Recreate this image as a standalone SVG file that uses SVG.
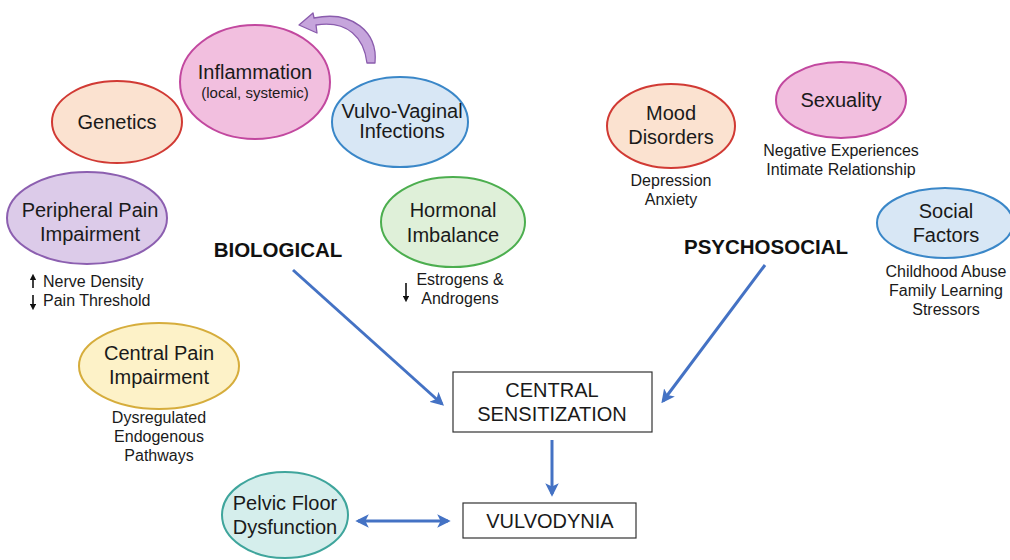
<svg xmlns="http://www.w3.org/2000/svg" width="1010" height="560" viewBox="0 0 1010 560">
<defs>
<style>
.lbl{font-family:"Liberation Sans",Arial,sans-serif;font-size:20px;fill:#1a1a1a;text-anchor:middle}
.sub{font-family:"Liberation Sans",Arial,sans-serif;font-size:16px;fill:#1a1a1a;text-anchor:middle}
.hd{font-family:"Liberation Sans",Arial,sans-serif;font-size:20.5px;font-weight:bold;fill:#111;text-anchor:middle}
.box{fill:#fff;stroke:#333;stroke-width:1.2}
.conn{stroke:#4472c4;stroke-width:3;fill:none}
.sm{stroke:#111;stroke-width:1.6;fill:none}
</style>
<marker id="ah" viewBox="0 0 10 10" refX="8" refY="5" markerWidth="4.5" markerHeight="4.5" orient="auto-start-reverse" markerUnits="strokeWidth">
<path d="M0,0 L10,5 L0,10 L2.5,5 z" fill="#4472c4"/>
</marker>
<marker id="sa" viewBox="0 0 10 10" refX="5" refY="5" markerWidth="4" markerHeight="4" orient="auto" markerUnits="strokeWidth">
<path d="M0,0 L10,5 L0,10 z" fill="#111"/>
</marker>
</defs>
<rect width="1010" height="560" fill="#fff"/>

<g id="connectors">
<line class="conn" x1="293" y1="270" x2="442" y2="404" marker-end="url(#ah)"/>
<line class="conn" x1="765" y1="265" x2="663" y2="401" marker-end="url(#ah)"/>
<line class="conn" x1="552" y1="440" x2="552" y2="494" marker-end="url(#ah)"/>
<line class="conn" x1="358" y1="521" x2="448" y2="521" marker-start="url(#ah)" marker-end="url(#ah)"/>
<path id="curved-arrow" d="M375,63 C378,32 352,10 314,18 L313,13 L299,25 L317,33 L316,25 C348,20 364,38 367,63 Z" fill="#c6a5dc" stroke="#8a5cad" stroke-width="1.3" stroke-linejoin="round"/>
</g>

<g id="genetics">
<ellipse cx="117" cy="122" rx="65" ry="41" fill="#fbe2d0" stroke="#d13a34" stroke-width="2"/>
<text class="lbl" x="117" y="129">Genetics</text>
</g>

<g id="inflammation">
<ellipse cx="255" cy="82" rx="75" ry="57" fill="#f2bfdf" stroke="#c2489f" stroke-width="2"/>
<text class="lbl" x="255" y="79">Inflammation</text>
<text class="sub" x="255" y="98" style="font-size:15px">(local, systemic)</text>
</g>

<g id="vulvo-vaginal">
<ellipse cx="400" cy="122" rx="68" ry="45" fill="#d8e7f5" stroke="#3a87c8" stroke-width="2"/>
<text class="lbl" x="402" y="118">Vulvo-Vaginal</text>
<text class="lbl" x="402" y="138">Infections</text>
</g>

<g id="peripheral-pain">
<ellipse cx="87" cy="218" rx="80" ry="46" fill="#dccbe9" stroke="#8c5fb0" stroke-width="2"/>
<text class="lbl" x="90" y="217">Peripheral Pain</text>
<text class="lbl" x="90" y="241">Impairment</text>
<line class="sm" x1="33" y1="288" x2="33" y2="277" marker-end="url(#sa)"/>
<line class="sm" x1="33" y1="295" x2="33" y2="307" marker-end="url(#sa)"/>
<text class="sub" x="43" y="287" style="text-anchor:start">Nerve Density</text>
<text class="sub" x="43" y="306" style="text-anchor:start">Pain Threshold</text>
</g>

<g id="hormonal">
<ellipse cx="453" cy="222" rx="72" ry="45" fill="#dff0d9" stroke="#4cae4f" stroke-width="2"/>
<text class="lbl" x="453" y="217">Hormonal</text>
<text class="lbl" x="453" y="242">Imbalance</text>
<line class="sm" x1="406" y1="283" x2="406" y2="299" marker-end="url(#sa)"/>
<text class="sub" x="460" y="285">Estrogens &amp;</text>
<text class="sub" x="460" y="304">Androgens</text>
</g>

<g id="biological">
<text class="hd" x="278" y="257">BIOLOGICAL</text>
</g>

<g id="central-pain">
<ellipse cx="159" cy="366" rx="80" ry="43" fill="#fdf2c8" stroke="#d6ad3c" stroke-width="2"/>
<text class="lbl" x="159" y="360">Central Pain</text>
<text class="lbl" x="159" y="384">Impairment</text>
<text class="sub" x="159" y="423">Dysregulated</text>
<text class="sub" x="159" y="442">Endogenous</text>
<text class="sub" x="159" y="461">Pathways</text>
</g>

<g id="pelvic-floor">
<ellipse cx="285" cy="515" rx="63" ry="43" fill="#d5eeec" stroke="#3fa59c" stroke-width="2"/>
<text class="lbl" x="285" y="510">Pelvic Floor</text>
<text class="lbl" x="285" y="534">Dysfunction</text>
</g>

<g id="central-sensitization">
<rect class="box" x="453" y="372" width="199" height="60"/>
<text class="lbl" x="552" y="397">CENTRAL</text>
<text class="lbl" x="552" y="421">SENSITIZATION</text>
</g>

<g id="vulvodynia">
<rect class="box" x="463" y="503" width="173" height="35"/>
<text class="lbl" x="550" y="528">VULVODYNIA</text>
</g>

<g id="psychosocial">
<text class="hd" x="766" y="254">PSYCHOSOCIAL</text>
</g>

<g id="mood-disorders">
<ellipse cx="671" cy="126" rx="64" ry="42" fill="#fbe2d0" stroke="#d13a34" stroke-width="2"/>
<text class="lbl" x="671" y="120">Mood</text>
<text class="lbl" x="671" y="144">Disorders</text>
<text class="sub" x="671" y="186">Depression</text>
<text class="sub" x="671" y="205">Anxiety</text>
</g>

<g id="sexuality">
<ellipse cx="841" cy="100" rx="65" ry="38" fill="#f2bfdf" stroke="#c2489f" stroke-width="2"/>
<text class="lbl" x="841" y="107">Sexuality</text>
<text class="sub" x="841" y="156">Negative Experiences</text>
<text class="sub" x="841" y="175">Intimate Relationship</text>
</g>

<g id="social-factors">
<ellipse cx="945" cy="223" rx="68" ry="35" fill="#d8e7f5" stroke="#3a87c8" stroke-width="2"/>
<text class="lbl" x="946" y="218">Social</text>
<text class="lbl" x="946" y="242">Factors</text>
<text class="sub" x="946" y="277">Childhood Abuse</text>
<text class="sub" x="946" y="296">Family Learning</text>
<text class="sub" x="946" y="315">Stressors</text>
</g>
</svg>
